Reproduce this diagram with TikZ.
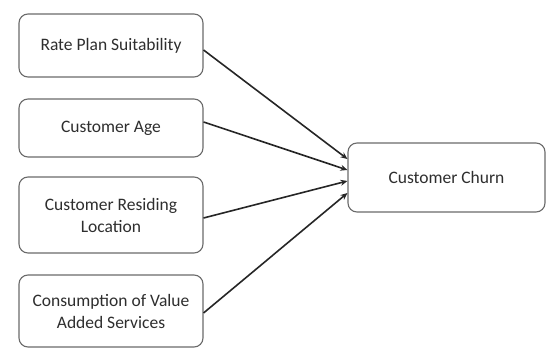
\documentclass[tikz,border=0pt]{standalone}
\usepackage{fontspec}
\setmainfont{Carlito}
\usetikzlibrary{arrows.meta}
\definecolor{txt}{HTML}{2E2E2E}
\definecolor{bord}{HTML}{6A6A6A}
\begin{document}
\begin{tikzpicture}[x=1pt,y=1pt,
  box/.style={draw=bord,line width=1.1pt,rounded corners=9pt,fill=white,
    text=txt,align=center,inner sep=0pt,
    font=\fontsize{17.5}{22}\selectfont},
  conn/.style={draw=black!85,line width=1.6pt,-{Stealth[length=7pt,width=6pt]}}]
\useasboundingbox (0,0) rectangle (547,348);
\node[box,minimum width=184pt,minimum height=63pt] (b1) at (111,302.5) {Rate Plan Suitability};
\node[box,minimum width=184pt,minimum height=58pt] (b2) at (111,220) {Customer Age};
\node[box,minimum width=184pt,minimum height=76pt] (b3) at (111,133) {Customer Residing\\Location};
\node[box,minimum width=184pt,minimum height=72pt] (b4) at (111,37) {Consumption of Value\\Added Services};
\node[box,minimum width=197pt,minimum height=69pt] (c) at (446.5,170.5) {Customer Churn};
\draw[conn] ([yshift=-4.5pt]b1.east) -- ([yshift=18.5pt]c.west);
\draw[conn] ([yshift=6pt]b2.east) -- ([yshift=7.5pt]c.west);
\draw[conn] ([yshift=-3pt]b3.east) -- ([yshift=-3.5pt]c.west);
\draw[conn] ([yshift=-2pt]b4.east) -- ([yshift=-15.5pt]c.west);
\end{tikzpicture}
\end{document}
